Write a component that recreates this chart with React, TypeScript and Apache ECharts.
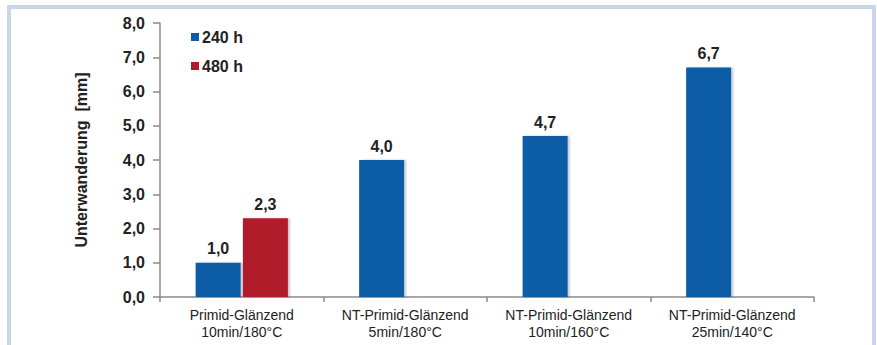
import React, { useEffect, useRef } from "react";
import * as echarts from "echarts";

const categories = [
  "Primid-Glänzend\n10min/180°C",
  "NT-Primid-Glänzend\n5min/180°C",
  "NT-Primid-Glänzend\n10min/160°C",
  "NT-Primid-Glänzend\n25min/140°C",
];
const series240h = [1.0, 4.0, 4.7, 6.7];
const series480h: (number | null)[] = [2.3, null, null, null];
const yTicks = { min: 0, max: 8, interval: 1 };
const legendNames = ["240 h", "480 h"];

const FONT = "'Liberation Sans', Arial, sans-serif";
const fmt = (v: number) => v.toFixed(1).replace(".", ",");

export default function App() {
  const ref = useRef<HTMLDivElement>(null);
  useEffect(() => {
    if (!ref.current) return;
    const chart = echarts.init(ref.current, undefined, { renderer: "svg" });
    const barLabel = {
      show: true,
      position: "top" as const,
      distance: 6,
      fontFamily: FONT,
      fontSize: 16,
      fontWeight: "bold" as const,
      color: "#222",
      formatter: (p: any) => fmt(p.value),
    };
    const shadow = {
      shadowColor: "rgba(0,0,0,0.22)",
      shadowBlur: 2,
      shadowOffsetX: 2,
      shadowOffsetY: 0,
    };
    chart.setOption({
      animation: false,
      backgroundColor: "#ffffff",
      textStyle: { fontFamily: FONT },
      grid: { left: 160, right: 63, top: 23, bottom: 48, containLabel: false },
      legend: {
        orient: "vertical",
        left: 186,
        top: 24,
        itemWidth: 8,
        itemHeight: 8,
        itemGap: 13,
        icon: "rect",
        data: legendNames,
        textStyle: { fontFamily: FONT, fontSize: 16, fontWeight: "bold", color: "#222", padding: [0, 0, 0, -2] },
      },
      xAxis: {
        type: "category",
        data: categories,
        axisLine: { lineStyle: { color: "#8a8a8a", width: 1.5 } },
        axisTick: { show: true, length: 5, lineStyle: { color: "#8a8a8a", width: 1.5 } },
        axisLabel: {
          fontFamily: FONT,
          fontSize: 14,
          color: "#222",
          margin: 9,
          lineHeight: 17,
          interval: 0,
        },
      },
      yAxis: {
        type: "value",
        min: yTicks.min,
        max: yTicks.max,
        interval: yTicks.interval,
        name: "Unterwanderung  [mm]",
        nameLocation: "middle",
        nameGap: 71,
        nameRotate: 90,
        nameTextStyle: { fontFamily: FONT, fontSize: 16, fontWeight: "bold", color: "#222" },
        splitLine: { show: false },
        axisLine: { show: true, lineStyle: { color: "#8a8a8a", width: 1.5 } },
        axisTick: { show: true, length: 7, lineStyle: { color: "#8a8a8a", width: 1.5 } },
        axisLabel: {
          fontFamily: FONT,
          fontSize: 16,
          fontWeight: "bold",
          color: "#222",
          margin: 15,
          formatter: (v: number) => fmt(v),
        },
      },
      series: [
        {
          name: legendNames[0],
          type: "bar",
          data: series240h,
          barWidth: 45,
          barGap: "5%",
          itemStyle: { color: "#0b5ba6", ...shadow },
          label: barLabel,
        },
        {
          name: legendNames[1],
          type: "bar",
          data: series480h,
          barWidth: 45,
          barGap: "5%",
          itemStyle: { color: "#b01b2a", ...shadow },
          label: barLabel,
        },
      ],
      graphic: [
        {
          type: "rect",
          shape: { x: 9, y: 7, width: 865, height: 400 },
          style: { fill: "none", stroke: "#c8d6ea", lineWidth: 4 },
          silent: true,
          z: 100,
        },
      ],
    });
    return () => chart.dispose();
  }, []);
  return (
    <div
      ref={ref}
      style={{ position: "fixed", left: 0, top: 0, width: 877, height: 345 }}
    />
  );
}
